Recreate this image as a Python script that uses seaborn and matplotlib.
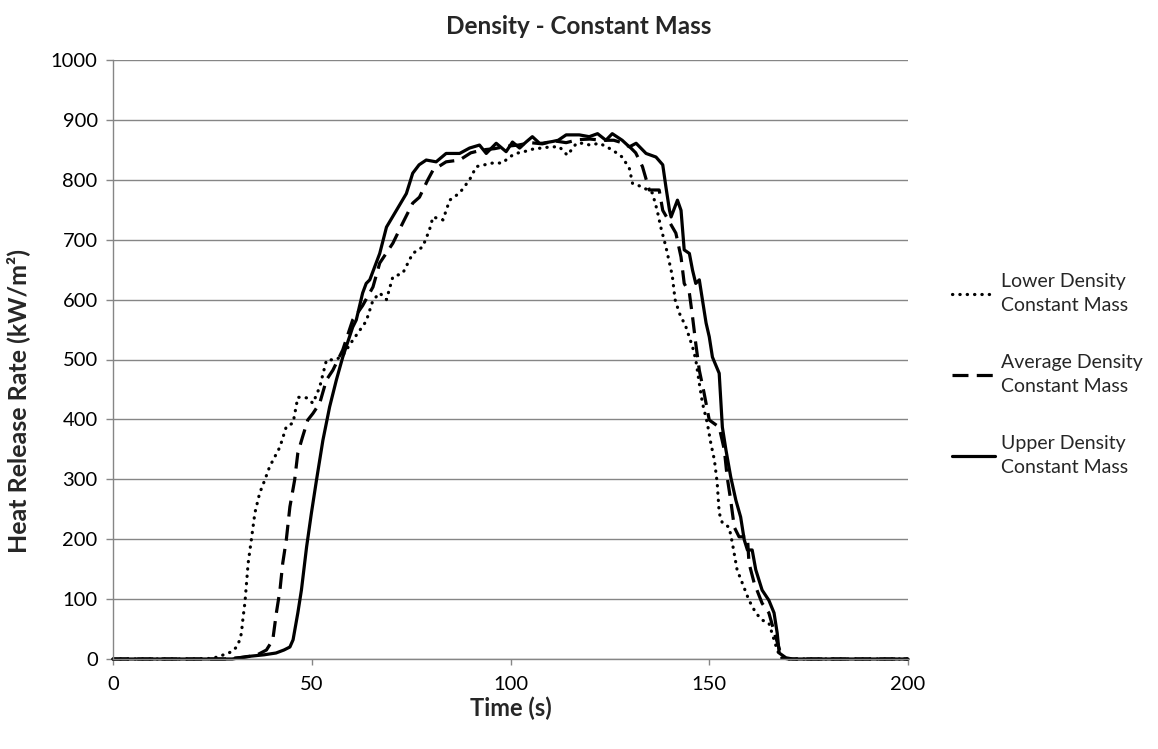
import pandas as pd
import seaborn as sns
import matplotlib.pyplot as plt

# heat release rate curves
lower_t = [0, 20, 25, 27, 29.8, 31.1, 31.9, 32.3, 32.7, 33.2, 34, 34.8, 35.7, 36.9, 38.2, 39.4,
           42, 43.6, 45.3, 46.5, 48.7, 50.3, 52, 53.7, 56.2, 57.8, 60.3, 63.7, 65.4, 67.1, 68.8,
           70.4, 72.9, 75.4, 77.9, 79.6, 80.5, 83, 84.7, 87.2, 89.7, 91.4, 95.5, 98, 99.7, 101.4,
           104, 106, 108, 110, 112.3, 114.3, 116.6, 118.1, 120, 122.4, 125.6, 128.1, 129.9,
           130.7, 133.2, 135.7, 136.9, 137.8, 139.1, 140.7, 141.4, 142.5, 144.1, 145.8, 146.6,
           147.5, 148.3, 149.5, 150.4, 151.3, 152, 152.5, 153.3, 155, 155.8, 157, 158.3, 160,
           161.7, 163.3, 165, 165.8, 167.1, 168, 170, 200]
lower_hrr = [0, 0, 1, 5, 12, 20, 32, 43, 68, 95, 160, 199, 244, 277, 299, 321,
             354, 388, 394, 437, 436, 427, 454, 499, 500, 507, 532, 564, 599, 611, 600,
             638, 644, 677, 688, 716, 738, 733, 766, 778, 800, 822, 828, 828, 838, 844,
             848, 852, 853, 855, 855, 841, 861, 861, 858, 861, 850, 838, 819,
             794, 788, 778, 749, 721, 688, 640, 600, 577, 555, 521, 500,
             460, 427, 394, 360, 332, 294, 244, 227, 220, 194, 149, 127, 98,
             77, 65, 60, 43, 15, 2, 0, 0]

avg_t = [0, 28, 33, 36, 38.6, 40.2, 41.1, 42, 42.7, 43.6, 44.5, 45.7, 46.5, 47.7, 49, 50.3,
         52, 53.7, 55.3, 57.8, 60.3, 62.8, 65.4, 67.1, 70.4, 72.9, 75.4, 77.1, 79.2, 80.5,
         83.8, 87.2, 90, 93, 96, 99, 102, 105, 108, 111, 114, 117, 120, 123, 126, 128, 130,
         131.5, 133.2, 134.9, 137.4, 138.3, 141.6, 142.9, 143.7, 145, 145.8, 146.6, 147.5,
         148.7, 150, 152.5, 153.8, 154.5, 155.4, 156.3, 157.5, 159.6, 160, 161.3, 163.3, 165,
         166.7, 168.3, 170, 200]
avg_hrr = [0, 0, 3, 6, 15, 32, 77, 115, 160, 199, 254, 299, 344, 371, 399, 410,
           427, 466, 482, 516, 566, 590, 621, 661, 694, 728, 761, 771, 800, 816,
           830, 833, 845, 850, 852, 856, 858, 862, 860, 865, 862, 867, 868, 866, 866, 862, 855,
           845, 822, 783, 783, 749, 711, 671, 627, 611, 571, 527, 482,
           444, 399, 387, 349, 304, 265, 220, 204, 204, 160, 127, 93, 77,
           37, 2, 0, 0]

upper_t = [0, 30, 33.6, 38, 41, 43, 44.5, 45.3, 46.5, 47.4, 48.7, 49.9, 51.2, 52.8, 54.5,
           56.2, 57.8, 60.3, 61.2, 62.8, 63.7, 64.6, 67.1, 68.8, 71.3, 73.8, 75.4, 77, 78.8,
           81.3, 83.8, 87.2, 89.7, 92.2, 93.9, 96.4, 98.9, 100.5, 102.3, 103.9, 105.5, 107.3,
           108, 110.6, 112, 114, 115.6, 117.3, 119.8, 121.9, 124, 125.6, 128.1, 129.9, 131.6,
           134.1, 136.6, 138.3, 139.1, 140, 140.4, 142, 142.9, 143.7, 145, 145.8, 146.6, 147.5,
           148.3, 149.2, 150, 150.8, 152.5, 152.9, 153.3, 154.2, 155.4, 156.7, 157.9, 158.8,
           159.6, 160.8, 161.7, 163.3, 165, 166.3, 167.1, 167.6, 169.3, 171, 200]
upper_hrr = [0, 0, 4, 7, 10, 15, 20, 32, 77, 115, 187, 243, 299, 365, 421,
             466, 504, 554, 566, 611, 627, 633, 677, 721, 749, 777, 811, 825, 833,
             830, 844, 844, 853, 858, 844, 861, 847, 863, 853, 863, 872, 861,
             861, 864, 866, 875, 875, 875, 872, 877, 866, 877, 866, 855, 861,
             844, 838, 825, 788, 749, 738, 766, 749, 683, 677, 649, 627, 633,
             599, 561, 538, 504, 477, 432, 387, 349, 304, 265, 237, 199,
             182, 182, 149, 115, 98, 77, 43, 10, 2, 0, 0]

labels = ['Lower Density\nConstant Mass', 'Average Density\nConstant Mass',
          'Upper Density\nConstant Mass']

sns.set_style("white")
plt.rcParams['font.family'] = ['Lato', 'DejaVu Sans']

grey = '#868686'

def main():
    fig = plt.figure(figsize=(11.58, 7.49), dpi=100)
    ax = fig.add_axes([113 / 1158, 1 - 659 / 749, 795 / 1158, 599 / 749])

    series = [(lower_t, lower_hrr, (0, (0.1, 2.2))),
              (avg_t, avg_hrr, (0, (5, 2.6))),
              (upper_t, upper_hrr, '-')]
    for (t, hrr, ls), lab in zip(series, labels):
        df = pd.DataFrame({'t': t, 'hrr': hrr})
        sns.lineplot(data=df, x='t', y='hrr', ax=ax, color='black',
                     linewidth=2.3, label=lab)
        ln = ax.get_lines()[-1]
        ln.set_linestyle(ls)
        ln.set_clip_on(False)
        if ls != '-':
            ln.set_dash_capstyle('round' if ls[1][0] < 1 else 'butt')

    ax.set_xlim(0, 200)
    ax.set_ylim(0, 1000)
    ax.set_xticks(range(0, 201, 50))
    ax.set_yticks(range(0, 1001, 100))
    ax.yaxis.grid(True, color=grey, linewidth=1.0)
    ax.xaxis.grid(False)
    ax.set_axisbelow(True)
    for s in ['top', 'right']:
        ax.spines[s].set_visible(False)
    for s in ['left', 'bottom']:
        ax.spines[s].set_color(grey)
        ax.spines[s].set_linewidth(1.0)
    ax.tick_params(axis='both', which='major', direction='out', color=grey,
                   width=1.0, labelsize=14.5, labelcolor='black')
    ax.tick_params(axis='y', length=5, pad=6, left=True)
    ax.tick_params(axis='x', length=4.5, pad=8, bottom=True)

    ax.set_xlabel('Time (s)', fontsize=17, fontweight='bold', labelpad=2)
    ax.set_ylabel('Heat Release Rate (kW/m²)', fontsize=18, fontweight='bold')
    ax.yaxis.set_label_coords(-0.104, 0.43)
    fig.suptitle('Density - Constant Mass', x=0.5, y=1 - 26 / 749, va='center',
                 fontsize=17.5, fontweight='bold')

    handles, labs = ax.get_legend_handles_labels()
    ax.get_legend().remove()
    leg = fig.legend(handles, labs, loc='center left', bbox_to_anchor=(952 / 1158, 0.5),
                     bbox_transform=fig.transFigure, frameon=False, fontsize=14,
                     handlelength=2.2, handletextpad=0.3, labelspacing=2.1,
                     borderpad=0, borderaxespad=0)
    for txt in leg.get_texts():
        txt.set_linespacing(1.45)

    plt.savefig('out.png', dpi=100)


if __name__ == '__main__':
    main()
